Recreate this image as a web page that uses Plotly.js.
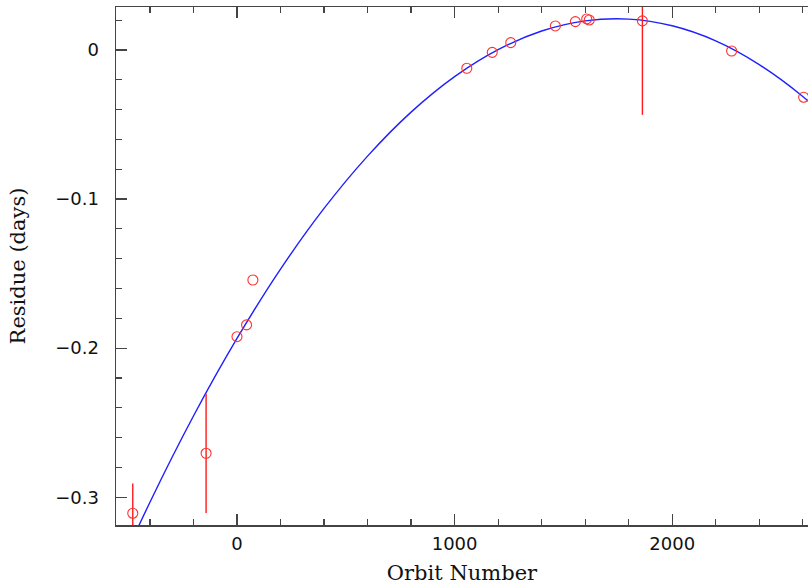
<!DOCTYPE html>
<html>
<head>
<meta charset="utf-8">
<script src="https://cdn.plot.ly/plotly-3.0.1.min.js"></script>
<style>html,body{margin:0;padding:0;background:#fff;}#chart{width:808px;height:588px;}</style>
</head>
<body>
<div id="chart"></div>
<script>
// Observed residues
const orbitNumber = [-479, -142, 0, 44, 73, 1056, 1173, 1258, 1463, 1555, 1607, 1619, 1863, 2273, 2604];
const residue = [-0.3107, -0.2705, -0.1923, -0.1844, -0.1543, -0.0123, -0.0016, 0.0049, 0.0161, 0.0190, 0.0208, 0.0201, 0.0195, -0.0007, -0.0317];
const residueErr = [0.020, 0.040, 0, 0, 0, 0, 0, 0, 0, 0, 0, 0, 0.063, 0, 0];

// Fitted curve
const fitOrbit = [-600, -400, -200, 0, 200, 400, 600, 800, 1000, 1200, 1400, 1600, 1800, 2000, 2200, 2400, 2600, 2800];
const fitResidue = [-0.3667, -0.3033, -0.2455, -0.1935, -0.1470, -0.1063, -0.0712, -0.0417, -0.0179, 0.0002, 0.0127, 0.0195, 0.0207, 0.0162, 0.0061, -0.0098, -0.0312, -0.0583];

const xTicks = [0, 1000, 2000];
const xTickText = ['0', '1000', '2000'];
const yTicks = [0, -0.1, -0.2, -0.3];
const yTickText = ['0', '\u22120.1', '\u22120.2', '\u22120.3'];

const traces = [
  {
    x: fitOrbit, y: fitResidue, type: 'scatter', mode: 'lines',
    line: {color: '#1f1fff', width: 1.4, shape: 'spline'},
    hoverinfo: 'skip'
  },
  {
    x: orbitNumber, y: residue, type: 'scatter', mode: 'markers',
    marker: {symbol: 'circle-open', size: 10, color: '#ff3030', line: {width: 1.1, color: '#ff3030'}},
    error_y: {type: 'data', array: residueErr, visible: true, color: '#ff1a1a', thickness: 1.4, width: 0}
  }
];

const axisCommon = {
  showgrid: false, zeroline: false, showline: true,
  linecolor: '#444', linewidth: 1.5,
  ticks: 'inside', ticklen: 11, tickwidth: 1.3, tickcolor: '#444',
  tickfont: {family: 'DejaVu Sans', size: 18, color: '#111'}
};

const layout = {
  width: 808, height: 588,
  margin: {l: 116, r: 0, t: 7, b: 63},
  paper_bgcolor: '#fff', plot_bgcolor: '#fff',
  showlegend: false,
  xaxis: Object.assign({}, axisCommon, {
    range: [-556, 2624], mirror: 'ticks',
    tickmode: 'array', tickvals: xTicks, ticktext: xTickText,
    ticklabelstandoff: 2,
    minor: {dtick: 200, tick0: 0, ticks: 'inside', ticklen: 6, tickwidth: 1.2, tickcolor: '#444'},
    title: {text: 'Orbit Number', font: {family: 'DejaVu Serif', size: 21, color: '#111'}, standoff: 12}
  }),
  yaxis: Object.assign({}, axisCommon, {
    range: [-0.3186, 0.0288], mirror: false,
    tickmode: 'array', tickvals: yTicks, ticktext: yTickText,
    ticklabelstandoff: 12,
    minor: {dtick: 0.02, tick0: 0, ticks: 'inside', ticklen: 6, tickwidth: 1.2, tickcolor: '#444'},
    title: {text: 'Residue (days)', font: {family: 'DejaVu Serif', size: 21, color: '#111'}, standoff: 24}
  })
};

Plotly.newPlot('chart', traces, layout, {staticPlot: true, displayModeBar: false});
</script>
</body>
</html>
